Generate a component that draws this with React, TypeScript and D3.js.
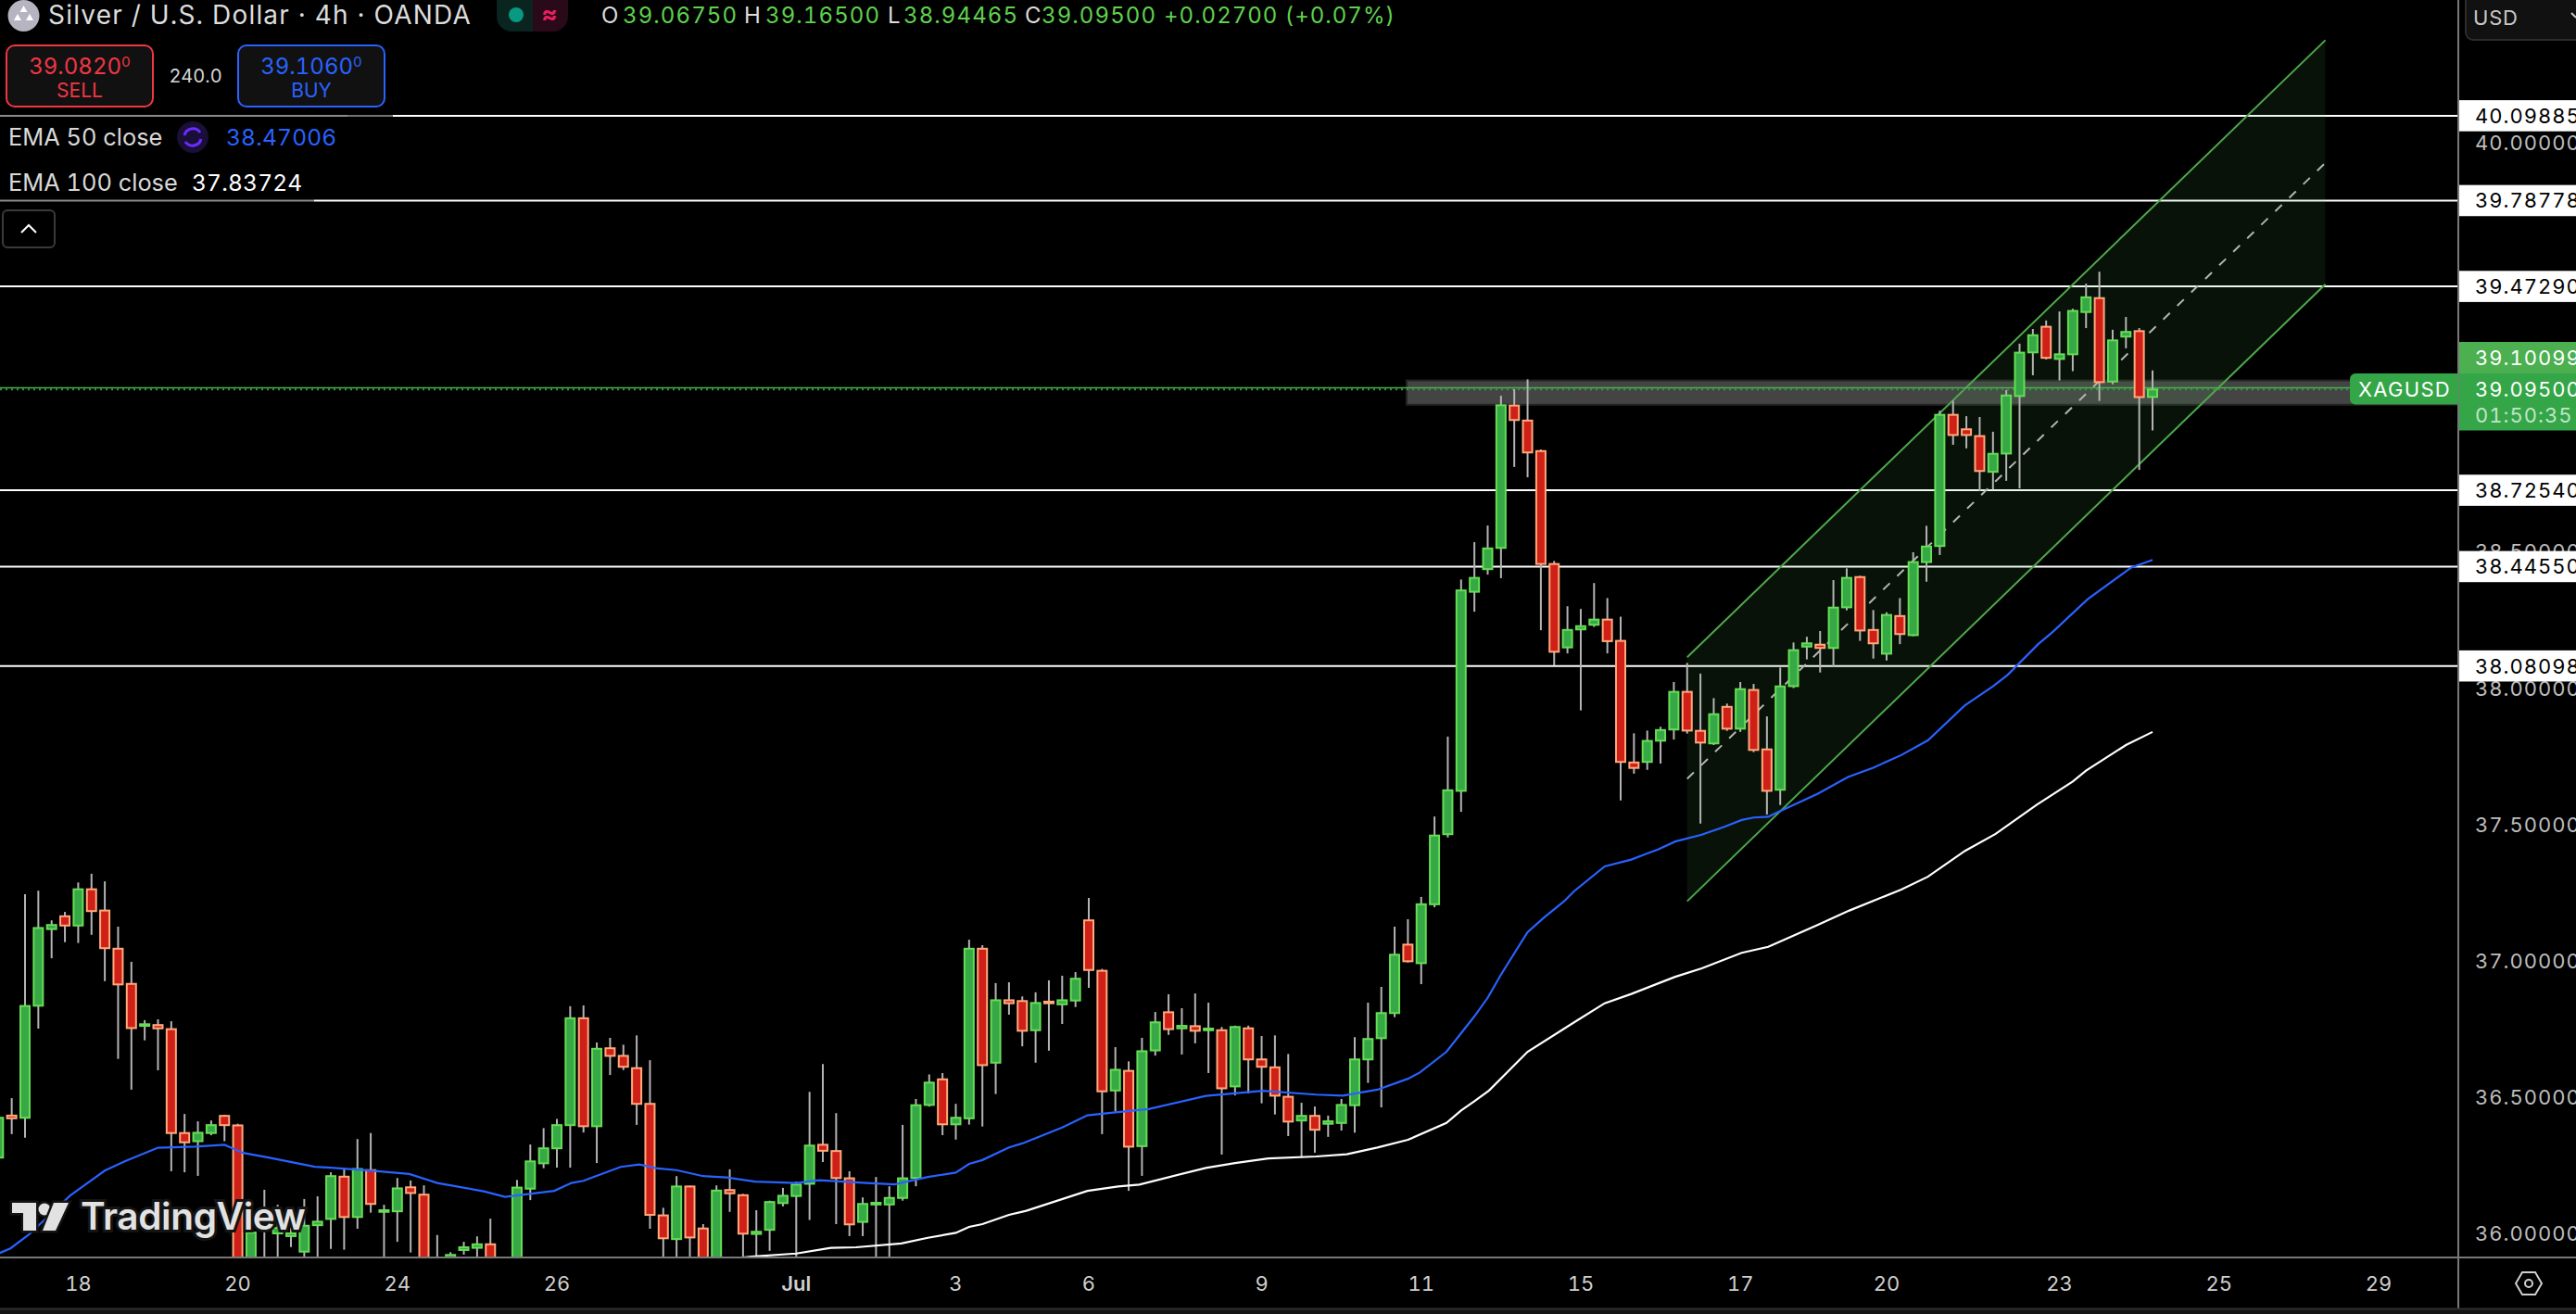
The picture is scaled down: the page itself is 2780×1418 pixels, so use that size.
import React, { useEffect } from "react";
import * as d3 from "d3";

// All series are listed newest bar first (index = bars ago).
const opens = [39.0675,39.309,39.289,39.124,39.43,39.379,39.224,39.207,39.325,39.231,39.071,38.86,38.793,38.924,38.949,39.002,38.521,38.462,38.194,38.264,38.126,38.213,38.407,38.296,38.147,38.159,38.152,38.007,37.627,37.775,37.993,37.851,37.931,37.797,37.843,37.986,37.848,37.807,37.729,37.727,38.173,38.251,38.232,38.215,38.149,38.455,38.869,38.981,39.036,38.514,38.436,38.353,37.623,37.464,37.207,36.991,37.059,36.808,36.716,36.638,36.47,36.405,36.402,36.431,36.414,36.501,36.609,36.638,36.752,36.539,36.745,36.745,36.76,36.752,36.811,36.671,36.32,36.596,36.524,36.963,37.148,36.854,36.84,36.85,36.745,36.852,36.855,36.626,37.044,36.422,36.4,36.565,36.471,36.203,36.13,36.106,36.106,36.042,36.202,36.302,36.325,36.182,36.137,36.111,36.013,35.998,36.14,36.159,35.85,36.018,36.172,35.979,36.066,36.475,36.606,36.651,36.679,36.393,36.789,36.397,36.312,36.257,36.164,35.8,35.78,35.96,35.947,35.939,35.9,35.85,36.142,36.169,36.081,36.079,36.232,36.06,36.208,36.053,36.03,35.933,35.99,36.0,36.05,35.85,36.396,36.431,36.368,36.338,36.368,36.749,36.764,36.761,36.915,37.044,37.184,37.262,37.129,37.163,37.116,36.835,36.424,36.432,36.278];
const highs = [39.165,39.32,39.361,39.314,39.527,39.483,39.391,39.381,39.348,39.317,39.263,39.093,38.94,38.994,38.997,39.054,39.017,38.595,38.498,38.33,38.278,38.286,38.412,38.439,38.396,38.209,38.188,38.167,38.075,37.896,38.015,38.022,37.943,37.963,38.053,38.092,38.022,37.858,37.844,37.834,38.262,38.33,38.385,38.29,38.3,38.466,38.875,39.132,39.096,39.072,38.596,38.535,38.398,37.822,37.529,37.234,37.152,37.125,36.904,36.846,36.72,36.493,36.432,36.465,36.479,36.658,36.726,36.724,36.762,36.762,36.757,36.846,36.88,36.826,36.877,36.812,36.717,36.631,36.683,36.97,37.23,36.958,36.945,36.928,36.884,36.869,36.921,36.918,37.057,37.077,36.475,36.588,36.583,36.493,36.398,36.173,36.207,36.132,36.228,36.441,36.621,36.519,36.19,36.167,36.12,36.085,36.145,36.235,36.176,36.034,36.175,36.21,36.094,36.635,36.726,36.692,36.717,36.7,36.836,36.833,36.42,36.386,36.326,36.196,35.8,36.054,35.989,35.969,35.931,35.994,36.176,36.194,36.203,36.105,36.368,36.346,36.241,36.224,36.136,36.126,36.02,36.105,36.16,36.01,36.402,36.435,36.414,36.411,36.438,36.778,36.785,36.782,36.996,37.125,37.291,37.319,37.287,37.179,37.148,37.257,37.244,36.496,36.44];
const lows = [38.94465,38.8,39.246,39.114,39.053,39.32,39.162,39.128,39.205,39.147,38.732,38.76,38.728,38.722,38.879,38.892,38.488,38.39,38.19,38.161,38.101,38.108,38.173,38.285,38.079,38.057,38.105,38.0,37.571,37.536,37.765,37.839,37.843,37.791,37.503,37.833,37.811,37.723,37.7,37.686,37.588,38.127,38.224,37.918,38.127,38.083,38.212,38.773,38.811,38.403,38.416,38.28,37.546,37.452,37.196,36.914,36.993,36.793,36.462,36.552,36.37,36.377,36.354,36.296,36.278,36.357,36.436,36.477,36.513,36.506,36.289,36.588,36.697,36.656,36.728,36.652,36.211,36.156,36.447,36.364,36.901,36.83,36.768,36.67,36.626,36.686,36.802,36.511,36.392,36.399,36.344,36.36,36.465,36.173,36.12,35.915,35.9,35.99,35.99,36.034,36.262,36.049,35.91,36.099,35.936,35.91,35.91,36.079,35.8,35.8,35.9,35.9,35.9,36.017,36.398,36.599,36.581,36.258,36.37,36.241,36.241,36.239,36.122,35.75,35.7,35.8,35.85,35.922,35.85,35.8,35.8,35.93,35.969,35.9,36.076,36.017,35.94,35.943,35.9,35.9,35.95,35.9,35.9,35.8,35.8,36.338,36.36,36.211,36.224,36.228,36.598,36.708,36.527,36.64,36.925,37.095,37.065,37.068,37.009,36.751,36.351,36.364,36.25];
const closes = [39.095,39.067,39.306,39.275,39.122,39.433,39.383,39.224,39.211,39.294,39.23,39.073,38.859,38.796,38.928,38.928,39.002,38.519,38.462,38.198,38.268,38.164,38.211,38.404,38.295,38.147,38.164,38.139,38.006,37.623,37.773,37.996,37.851,37.904,37.8,37.844,37.986,37.846,37.806,37.707,37.729,38.172,38.251,38.227,38.213,38.133,38.455,38.864,38.983,39.037,38.512,38.404,38.358,37.625,37.459,37.207,36.998,37.022,36.808,36.713,36.638,36.471,36.411,36.38,36.431,36.41,36.505,36.611,36.638,36.757,36.532,36.751,36.743,36.761,36.749,36.774,36.668,36.318,36.6,36.521,36.966,36.934,36.855,36.844,36.845,36.743,36.844,36.855,36.617,37.044,36.424,36.4,36.553,36.47,36.202,36.13,36.112,36.108,36.033,36.203,36.303,36.322,36.179,36.138,36.115,36.006,35.999,36.147,36.157,35.85,35.985,36.172,35.982,36.068,36.475,36.611,36.651,36.677,36.393,36.789,36.397,36.312,36.264,36.168,35.75,35.88,35.96,35.949,35.921,35.88,35.85,36.148,36.165,36.085,36.108,36.236,36.06,36.21,36.043,36.028,36.0,36.02,36.06,36.003,35.85,36.397,36.397,36.369,36.334,36.368,36.752,36.767,36.753,36.913,37.046,37.182,37.262,37.129,37.131,37.12,36.834,36.422,36.424];

const ema50Bars = [0,1.6,4.9,7.5,8.6,10.9,12,14.1,16.9,18.9,21,22.9,25.2,28.3,28.9,30,30.9,32.2,33.9,35.9,37.2,39.2,41.2,43.5,44.3,45.7,47,49,50,51,52,53.1,55.1,56,58.3,60.9,62.9,66.9,71.2,75.5,78,80.1,82,85,86,88,89,90,92.1,94.6,96.7,100.3,102,105.1,107.2,109,111,112.4,113.8,115.2,118,118.9,120.2,123.9,125.5,129,131.1,133.9,137,138.2,141.7,143.6,145,147.2,150,152.5,154,156.6,159.7,161.1,161.9];
const ema50Values = [38.47,38.442,38.325,38.206,38.161,38.048,38.006,37.937,37.808,37.754,37.708,37.674,37.612,37.542,37.528,37.525,37.516,37.491,37.462,37.437,37.408,37.371,37.346,37.255,37.216,37.161,37.105,36.949,36.864,36.796,36.734,36.666,36.59,36.567,36.527,36.505,36.509,36.523,36.504,36.456,36.444,36.433,36.388,36.33,36.315,36.269,36.255,36.223,36.207,36.18,36.185,36.195,36.185,36.19,36.205,36.21,36.232,36.238,36.253,36.244,36.193,36.185,36.156,36.134,36.154,36.185,36.218,36.23,36.241,36.244,36.278,36.295,36.325,36.318,36.314,36.264,36.23,36.139,35.996,35.945,35.928];
const ema100Bars = [0,2,5,6,8.7,11.8,14.1,16.9,18.9,22.8,25.2,28.9,30.9,33.9,35.9,39.2,41.2,43.5,47,49.9,51,52,53.1,56,58.3,60.6,62.9,66.5,69,71.2,76.2,77.8,80.1,84.7,86,88,89,90,92.1,94.1,97.5,99.4,102,105.4,109];
const ema100Values = [37.839,37.791,37.697,37.657,37.572,37.465,37.403,37.308,37.261,37.184,37.131,37.051,37.029,36.972,36.941,36.878,36.844,36.774,36.666,36.524,36.485,36.451,36.405,36.343,36.315,36.29,36.282,36.275,36.258,36.24,36.179,36.172,36.156,36.083,36.068,36.034,36.024,36.002,35.984,35.963,35.949,35.947,35.926,35.915,35.894];

const levelPrices = [40.09885, 39.78778, 39.4729, 38.7254, 38.4455, 38.08098];
const levelLabels = ["40.09885", "39.78778", "39.47290", "38.72540", "38.44550", "38.08098"];
const priceTicks = [40, 39.5, 39, 38.5, 38, 37.5, 37, 36.5, 36];
const priceTickLabels = ["40.00000", "39.50000", "39.00000", "38.50000", "38.00000", "37.50000", "37.00000", "36.50000", "36.00000"];
const timeTickBars = [156, 144, 132, 120, 102, 90, 80, 67, 55, 43, 31, 20, 7, -5, -17];
const timeTickLabels = ["18", "20", "24", "26", "Jul", "3", "6", "9", "11", "15", "17", "20", "23", "25", "29"];

const channelBars = [35, -13];
const channelUpper = [38.113, 40.376];
const channelLower = [37.218, 39.481];
const channelMiddle = [37.667, 39.926];
const zoneBarStart = 56.1;
const zonePrices = [39.128, 39.039];
const lastPrice = 39.095;
const askLine = 39.10099;

const FONT = "Inter, 'Noto Sans', sans-serif";
const W = 2780;
const H = 1418;
const PANE_R = 2653;
const PANE_B = 1356;

const x = d3.scaleLinear().domain([0, 162]).range([2323, 2323 - 14.35 * 162]);
const y = d3.scaleLinear().domain([40, 36]).range([154, 1331]);

function pathOf(bars: number[], vals: number[]) {
  return (
    d3
      .line<number>()
      .x((b) => x(b))
      .y((_, i) => y(vals[i]))
      .curve(d3.curveLinear)(bars) || ""
  );
}

const UP_FILL = "#37a846";
const UP_EDGE = "#66dd55";
const DOWN_FILL = "#cf2018";
const DOWN_EDGE = "#ffa97c";
const WICK = "#b4b4b4";

function Candles() {
  return (
    <g>
      {opens.map((o, i) => {
        const c = closes[i];
        const up = c >= o;
        const top = y(Math.max(o, c));
        const bot = y(Math.min(o, c));
        const cx = x(i);
        return (
          <g key={i}>
            <line x1={cx} x2={cx} y1={y(highs[i])} y2={y(lows[i])} stroke={WICK} strokeWidth={2} />
            <rect
              x={cx - 5}
              y={top}
              width={10}
              height={Math.max(bot - top, 1.5)}
              fill={up ? UP_FILL : DOWN_FILL}
              stroke={up ? UP_EDGE : DOWN_EDGE}
              strokeWidth={2}
            />
          </g>
        );
      })}
    </g>
  );
}

export default function App() {
  useEffect(() => {
    document.body.style.margin = "0";
    document.body.style.background = "#000";
  }, []);
  const upper = pathOf(channelBars, channelUpper);
  const lower = pathOf(channelBars, channelLower);
  const middle = pathOf(channelBars, channelMiddle);
  const fillPts =
    `M${x(channelBars[0])},${y(channelUpper[0])}L${x(channelBars[1])},${y(channelUpper[1])}` +
    `L${x(channelBars[1])},${y(channelLower[1])}L${x(channelBars[0])},${y(channelLower[0])}Z`;
  return (
    <svg
      width={W}
      height={H}
      viewBox={`0 0 ${W} ${H}`}
      style={{ position: "absolute", left: 0, top: 0, background: "#000", display: "block", fontVariantNumeric: "tabular-nums" }}
      fontFamily={FONT}
    >
      <defs>
        <clipPath id="pane">
          <rect x={0} y={0} width={PANE_R} height={PANE_B} />
        </clipPath>
      </defs>
      <rect width={W} height={H} fill="#000" />

      <g clipPath="url(#pane)">
        {levelPrices.map((p) => (
          <line key={p} x1={0} x2={PANE_R} y1={y(p)} y2={y(p)} stroke="#fff" strokeWidth={2} />
        ))}
        <rect
          x={x(zoneBarStart)}
          y={y(zonePrices[0])}
          width={PANE_R - x(zoneBarStart) + 4}
          height={y(zonePrices[1]) - y(zonePrices[0])}
          fill="#444444"
          stroke="#242424"
          strokeWidth={2}
        />
        <path d={fillPts} fill="#4caf50" fillOpacity={0.1} />
        <path d={upper} stroke="#4fa84c" strokeWidth={2} fill="none" />
        <path d={lower} stroke="#4fa84c" strokeWidth={2} fill="none" />
        <path d={middle} stroke="#b4b4b4" strokeWidth={2} fill="none" strokeDasharray="10 11" />
        <line x1={0} x2={2540} y1={y(askLine)} y2={y(askLine)} stroke="#4caf50" strokeWidth={1.5} />
        <line x1={0} x2={2540} y1={y(lastPrice)} y2={y(lastPrice)} stroke="#2f9a3f" strokeWidth={2} strokeDasharray="2 4" />
        <Candles />
        <path d={pathOf(ema50Bars, ema50Values)} stroke="#2962ff" strokeWidth={2.2} fill="none" />
        <path d={pathOf(ema100Bars, ema100Values)} stroke="#ffffff" strokeWidth={2.2} fill="none" />
      </g>

      <rect x={0} y={118} width={375} height={12} fill="#000" fillOpacity={0.45} />
      <rect x={375} y={118} width={49} height={12} fill="#000" fillOpacity={0.55} />
      <rect x={0} y={210} width={339} height={12} fill="#000" fillOpacity={0.45} />

      <g fill="#e2e2e2" stroke="#141414" strokeWidth={5} paintOrder="stroke">
        <path d="M13,1298 H39 V1328 H25 V1309 H13 Z" />
        <circle cx={48} cy={1305} r={6.5} />
        <path d="M58,1298 H74 L60,1328 H46 Z" />
        <text x={87} y={1327} fontSize={40.5} fontWeight={600} stroke="#141414" strokeWidth={6} letterSpacing={-0.4}>
          TradingView
        </text>
      </g>

      <circle cx={25.5} cy={17} r={17} fill="#b6b4c0" />
      <path d="M25.5,6 l4,7 h-8 Z M19,15 l4,7 h-8 Z M32,15 l4,7 h-8 Z" fill="#fff" />
      <text x={52} y={26} fontSize={28} fill="#dcdcdc" letterSpacing={1.2}>
        Silver / U.S. Dollar · 4h · OANDA
      </text>
      <path d="M536,0 H575 V34 H552 A16,16 0 0 1 536,18 Z" fill="#0a2420" />
      <path d="M575,0 H613 V18 A16,16 0 0 1 597,34 H575 Z" fill="#2a0a18" />
      <ellipse cx={557} cy={16} rx={8} ry={8} fill="#089981" />
      <text x={593} y={24} fontSize={26} fontWeight={700} textAnchor="middle" fill="#e91e63">≈</text>
      <text y={25} fontSize={24} letterSpacing={1.1}>
        <tspan x={649} fill="#dcdcdc">O</tspan>
        <tspan x={672} fill="#5fd14f">39.06750</tspan>
        <tspan x={803} fill="#dcdcdc">H</tspan>
        <tspan x={826} fill="#5fd14f">39.16500</tspan>
        <tspan x={958} fill="#dcdcdc">L</tspan>
        <tspan x={975} fill="#5fd14f">38.94465</tspan>
        <tspan x={1106} fill="#dcdcdc">C</tspan>
        <tspan x={1124} fill="#5fd14f">39.09500</tspan>
        <tspan x={1256} fill="#5fd14f" letterSpacing={1}>+0.02700 (+0.07%)</tspan>
      </text>

      <rect x={7} y={49} width={158} height={66} rx={9} fill="#111" stroke="#f23645" strokeWidth={2} />
      <text x={86} y={80} fontSize={24} textAnchor="middle" fill="#f23645">
        39.0820<tspan fontSize={15} dy={-8}>0</tspan>
      </text>
      <text x={86} y={105} fontSize={21} textAnchor="middle" fill="#f23645">SELL</text>
      <text x={211} y={89} fontSize={20} textAnchor="middle" fill="#d6d6d6">240.0</text>
      <rect x={257} y={49} width={158} height={66} rx={9} fill="#111" stroke="#2962ff" strokeWidth={2} />
      <text x={336} y={80} fontSize={24} textAnchor="middle" fill="#2962ff">
        39.1060<tspan fontSize={15} dy={-8}>0</tspan>
      </text>
      <text x={336} y={105} fontSize={21} textAnchor="middle" fill="#2962ff">BUY</text>

      <text x={9} y={157} fontSize={25.4} fill="#d8d8d8">EMA 50 close</text>
      <circle cx={208} cy={148} r={17} fill="#1a0f38" />
      <path d="M199,146 A9.5,9.5 0 0 1 216,143 M217,150 A9.5,9.5 0 0 1 200,153" stroke="#6a2cff" strokeWidth={3} fill="none" />
      <text x={244} y={157} fontSize={24.5} fill="#2962ff" letterSpacing={0.2}>38.47006</text>
      <text x={9} y={206} fontSize={25.4} fill="#d8d8d8">EMA 100 close</text>
      <text x={207} y={206} fontSize={24.5} fill="#ffffff" letterSpacing={0.2}>37.83724</text>
      <rect x={3} y={227} width={56} height={40} rx={5} fill="#000" stroke="#3a3a3a" strokeWidth={2} />
      <path d="M23,251 L31,243 L39,251" stroke="#fff" strokeWidth={2} fill="none" />

      <line x1={0} x2={W} y1={1357} y2={1357} stroke="#787878" strokeWidth={2} />
      <line x1={PANE_R} x2={PANE_R} y1={0} y2={1412} stroke="#787878" strokeWidth={2} />
      <rect x={0} y={1412} width={W} height={6} fill="#141414" />
      <line x1={0} x2={W} y1={1412.5} y2={1412.5} stroke="#2e2e2e" strokeWidth={2} />

      {timeTickBars.map((b, i) => (
        <text
          key={b}
          x={x(b)}
          y={1393}
          fontSize={22}
          textAnchor="middle"
          fill="#cfcfcf"
          fontWeight={timeTickLabels[i] === "Jul" ? 600 : 400}
        >
          {timeTickLabels[i]}
        </text>
      ))}
      <path d="M2715,1385 L2722,1373 H2736 L2743,1385 L2736,1397 H2722 Z" stroke="#cfcfcf" strokeWidth={2} fill="none" />
      <circle cx={2729} cy={1385} r={4} stroke="#cfcfcf" strokeWidth={2} fill="none" />

      {priceTicks.map((p, i) => (
        <text key={p} x={2671} y={y(p) + 8} fontSize={22} fill="#bdbdbd" letterSpacing={1}>
          {priceTickLabels[i]}
        </text>
      ))}
      {levelPrices.map((p, i) => (
        <g key={p}>
          <rect x={2654} y={y(p) - 16.8} width={126} height={33.6} fill="#fff" />
          <text x={2671} y={y(p) + 8} fontSize={22} fill="#000" letterSpacing={1}>
            {levelLabels[i]}
          </text>
        </g>
      ))}

      <rect x={2654} y={369} width={126} height={34} fill="#4caf50" />
      <text x={2671} y={394} fontSize={22} fill="#fff" letterSpacing={1}>39.10099</text>
      <rect x={2654} y={403} width={126} height={61.5} fill="#34a647" />
      <text x={2671} y={428} fontSize={22} fill="#fff" letterSpacing={1}>39.09500</text>
      <text x={2671} y={455.5} fontSize={22} fill="#c2e4c8" letterSpacing={1}>01:50:35</text>
      <path d="M2653,403 H2542 A6,6 0 0 0 2536,409 V430.5 A6,6 0 0 0 2542,436.5 H2653 Z" fill="#34a647" />
      <text x={2545} y={428} fontSize={22} fill="#fff" letterSpacing={1.3}>XAGUSD</text>

      <rect x={2661} y={-8} width={130} height={51} rx={8} fill="#111" stroke="#2c2c2c" strokeWidth={2} />
      <text x={2669} y={26.5} fontSize={22} fill="#c8c8c8" letterSpacing={0.8}>USD</text>
      <path d="M2775,14 L2780,19" stroke="#c8c8c8" strokeWidth={2} fill="none" />
    </svg>
  );
}
